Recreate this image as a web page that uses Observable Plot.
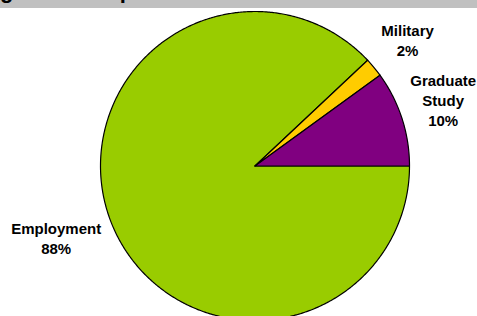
<!DOCTYPE html>
<html>
<head>
<meta charset="utf-8">
<script src="https://cdn.jsdelivr.net/npm/d3@7"></script>
<script src="https://cdn.jsdelivr.net/npm/@observablehq/plot@0.6"></script>
<style>
  html, body { margin: 0; padding: 0; background: #ffffff; overflow: hidden; }
  #wrap { width: 477px; height: 316px; overflow: hidden; position: relative; }
  #titlebar { position: relative; height: 8px; background: #c0c0c0; overflow: hidden; width: 477px; }
  #titlebar span { position: absolute; top: -19.5px; white-space: nowrap; font: bold 22px Arial, "Liberation Sans", sans-serif; line-height: 20px; color: #000; }
  svg { display: block; }
</style>
</head>
<body>
<div id="wrap">
  <div id="titlebar"><span id="title">Post-graduation plans</span></div>
  <div id="chart"></div>
</div>
<script>
const categories = ["Employment", "Military", "Graduate Study"];
const values = [88, 2, 10];
const labels = ["Employment\n88%", "Military\n2%", "Graduate\nStudy\n10%"];
const colors = ["#99CC00", "#FFCC00", "#800080"];
// small pixel nudges for label boxes (layout only)
const labelNudge = [[-2, -6], [2, -1.5], [-5, -3.5]];

// title: hidden prefix shifted off the left edge
const fontTitle = "bold 22px Arial, 'Liberation Sans', sans-serif";
const cv = document.createElement("canvas").getContext("2d");
cv.font = fontTitle;
document.getElementById("title").style.left = (-cv.measureText("Post-").width) + "px";

const W = 477, H = 308;
const cx = 254.5, cy = 157.5, R = 154.5;
const total = d3.sum(values);

// slices clockwise from 3 o'clock
let acc = 0;
const slices = categories.map((c, i) => {
  const a0 = acc / total * 2 * Math.PI;
  acc += values[i];
  const a1 = acc / total * 2 * Math.PI;
  return {cat: c, a0, a1, label: labels[i], i};
});

const pts = [];
for (const s of slices) {
  pts.push({cat: s.cat, x: 0, y: 0});
  const n = Math.max(2, Math.ceil((s.a1 - s.a0) / (Math.PI / 360)));
  for (let k = 0; k <= n; k++) {
    const a = s.a0 + (s.a1 - s.a0) * k / n;
    pts.push({cat: s.cat, x: Math.cos(a), y: -Math.sin(a)});
  }
}

// label placement outside the pie
const fontLab = "bold 15px Arial, 'Liberation Sans', sans-serif";
cv.font = fontLab;
const lineH = 20, gap = 8;
const labs = slices.map(s => {
  const m = (s.a0 + s.a1) / 2;
  const ux = Math.cos(m), uy = Math.sin(m);
  const lines = s.label.split("\n");
  const w = d3.max(lines, l => cv.measureText(l).width);
  const h = lines.length * lineH;
  const ext = Math.abs(ux) * w / 2 + Math.abs(uy) * h / 2;
  const d = R + gap + ext;
  const [nx, ny] = labelNudge[s.i];
  return {label: s.label, x: (ux * d + nx) / R, y: -(uy * d + ny) / R};
});

const chart = Plot.plot({
  width: W,
  height: H,
  margin: 0,
  style: {overflow: "hidden", background: "#ffffff"},
  x: {domain: [-1, 1], range: [cx - R, cx + R], axis: null},
  y: {domain: [-1, 1], range: [cy + R, cy - R], axis: null},
  color: {domain: categories, range: colors},
  marks: [
    Plot.line(pts, {x: "x", y: "y", z: "cat", fill: "cat", stroke: "#000000", strokeWidth: 1.2, curve: "linear-closed"}),
    Plot.text(labs, {x: "x", y: "y", text: "label", fontSize: 15, fontWeight: "bold", lineHeight: lineH / 15, fill: "#000000", fontFamily: "Arial, 'Liberation Sans', sans-serif"})
  ]
});
document.getElementById("chart").appendChild(chart);
</script>
</body>
</html>
